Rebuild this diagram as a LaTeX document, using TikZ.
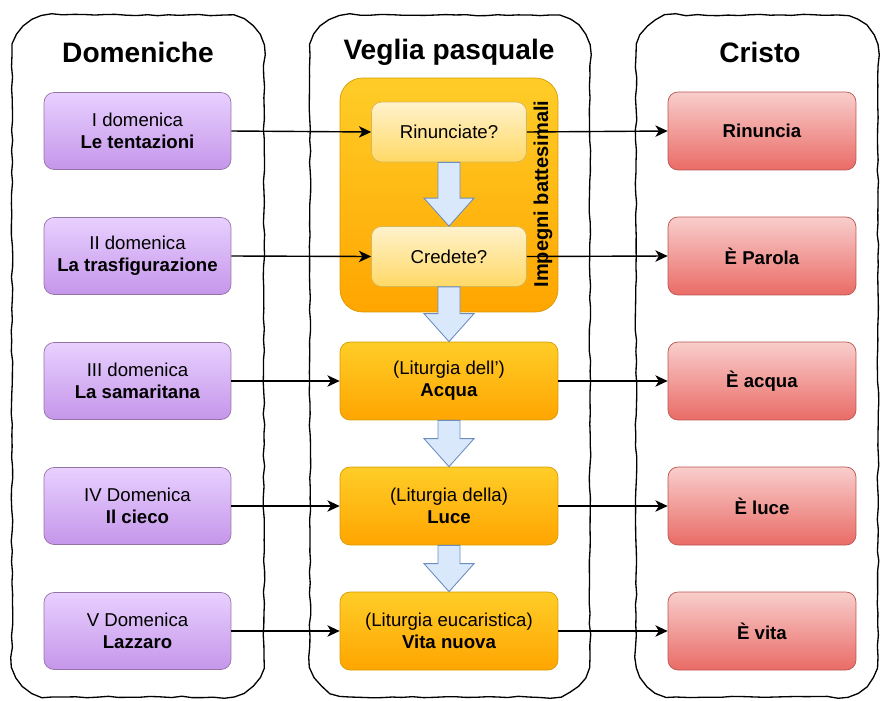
\documentclass[tikz,border=0pt]{standalone}
\usepackage{fontspec}
\setmainfont{Liberation Sans}
\usepackage{xcolor}
\usetikzlibrary{positioning,calc,arrows.meta,decorations.pathmorphing}

\definecolor{suntop}{HTML}{E8D0FF}
\definecolor{sunbot}{HTML}{C596EA}
\definecolor{sunline}{HTML}{9673A6}
\definecolor{redtop}{HTML}{F8CECC}
\definecolor{redbot}{HTML}{EA6B66}
\definecolor{redline}{HTML}{B85450}
\definecolor{orgtop}{HTML}{FFCD28}
\definecolor{orgbot}{HTML}{FFA500}
\definecolor{orgline}{HTML}{D79B00}
\definecolor{yeltop}{HTML}{FFF2CC}
\definecolor{yelbot}{HTML}{FFD966}
\definecolor{yelline}{HTML}{D6B656}
\definecolor{flowfill}{HTML}{DAE8FC}
\definecolor{flowline}{HTML}{6C8EBF}

% block arrow between two stacked nodes
\newcommand{\flowarrow}[2]{%
  \draw[flow] ($(#1.south)+(-11,0)$) -- ($(#2.north)+(-11,-28)$)
    -- ($(#2.north)+(-25,-28)$) -- (#2.north) -- ($(#2.north)+(25,-28)$)
    -- ($(#2.north)+(11,-28)$) -- ($(#1.south)+(11,0)$) -- cycle;}

\begin{document}
\begin{tikzpicture}[x=0.02cm,y=-0.02cm,
    boxtext/.style={align=center, font=\fontsize{10.6}{12.6}\selectfont, inner sep=0pt},
    sunday/.style={boxtext, draw=sunline, top color=suntop, bottom color=sunbot,
        rounded corners=0.2cm, minimum width=3.74cm, minimum height=1.54cm},
    christ/.style={boxtext, draw=redline, top color=redtop, bottom color=redbot,
        rounded corners=0.2cm, minimum width=3.76cm, minimum height=1.56cm},
    rite/.style={boxtext, draw=orgline, top color=orgtop, bottom color=orgbot,
        rounded corners=0.2cm, minimum width=4.36cm, minimum height=1.56cm},
    vow/.style={boxtext, draw=yelline, top color=yeltop, bottom color=yelbot,
        rounded corners=0.2cm, minimum width=3.1cm, minimum height=1.2cm},
    title/.style={font=\bfseries\fontsize{16}{19}\selectfont, inner sep=0pt},
    lane/.style={draw=black, line width=0.75pt, decorate,
        decoration={random steps, segment length=6pt, amplitude=0.45pt}},
    flow/.style={draw=flowline, fill=flowfill, line width=0.5pt, line join=miter},
    link/.style={draw=black, line width=0.8pt, -{Stealth[length=7pt,width=6.5pt,inset=2pt]}}]

    \useasboundingbox (0,0) rectangle (882,700);
    \pgfmathsetseed{11}

    % Lanes
    \foreach \xa/\xb in {12/264, 310/590, 636/878}
        \draw[lane] (\xa,55) .. controls (\xa,33) and ($(\xa,15)+(18,0)$) .. ($(\xa,15)+(40,0)$)
            -- ($(\xb,15)+(-40,0)$) .. controls ($(\xb,15)+(-18,0)$) and (\xb,33) .. (\xb,55)
            -- (\xb,657) .. controls (\xb,679) and ($(\xb,697)+(-18,0)$) .. ($(\xb,697)+(-40,0)$)
            -- ($(\xa,697)+(40,0)$) .. controls ($(\xa,697)+(18,0)$) and (\xa,679) .. (\xa,657) -- cycle;

    % Titles
    \node[title] (tdom) at (138,52) {Domeniche};
    \node[title] (tveg) at (449,52) {Veglia pasquale};
    \node[title] (tcri) at (760,52) {Cristo};

    % Sundays
    \node[sunday] (d1) at (137.5,131) {I domenica\\\textbf{Le tentazioni}};
    \node[sunday] (d2) at (137.5,256) {II domenica\\\textbf{La trasfigurazione}};
    \node[sunday] (d3) at (137.5,381) {III domenica\\\textbf{La samaritana}};
    \node[sunday] (d4) at (137.5,506) {IV Domenica\\\textbf{Il cieco}};
    \node[sunday] (d5) at (137.5,631) {V Domenica\\\textbf{Lazzaro}};

    % Vigil
    \node[draw=orgline, top color=orgtop, bottom color=orgbot, rounded corners=0.45cm,
        minimum width=4.36cm, minimum height=4.68cm, inner sep=0pt] (impegni) at (449,195) {};
    \node[vow] (q1) at (449,132) {Rinunciate?};
    \node[vow] (q2) at (449,256.5) {Credete?};
    \node[rite] (acqua) at (449,381) {(Liturgia dell')\\\textbf{Acqua}};
    \node[rite] (luce) at (449,506) {(Liturgia della)\\\textbf{Luce}};
    \node[rite] (vita) at (449,631) {(Liturgia eucaristica)\\\textbf{Vita nuova}};

    % Flow
    \flowarrow{q1}{q2}
    \flowarrow{q2}{acqua}
    \flowarrow{acqua}{luce}
    \flowarrow{luce}{vita}

    \node[rotate=90, font=\bfseries\fontsize{11.4}{13}\selectfont, inner sep=0pt]
        (implabel) at (543,194) {Impegni battesimali};

    % Christ
    \node[christ] (c1) at (762,131) {\textbf{Rinuncia}};
    \node[christ] (c2) at (762,256) {\textbf{È Parola}};
    \node[christ] (c3) at (762,381) {\textbf{È acqua}};
    \node[christ] (c4) at (762,506) {\textbf{È luce}};
    \node[christ] (c5) at (762,631) {\textbf{È vita}};

    % Links
    \draw[link] (d1.east) -- (q1.west);
    \draw[link] (d2.east) -- (q2.west);
    \draw[link] (d3.east) -- (acqua.west);
    \draw[link] (d4.east) -- (luce.west);
    \draw[link] (d5.east) -- (vita.west);
    \draw[link] (q1.east) -- (c1.west);
    \draw[link] (q2.east) -- (c2.west);
    \draw[link] (acqua.east) -- (c3.west);
    \draw[link] (luce.east) -- (c4.west);
    \draw[link] (vita.east) -- (c5.west);

\end{tikzpicture}
\end{document}
